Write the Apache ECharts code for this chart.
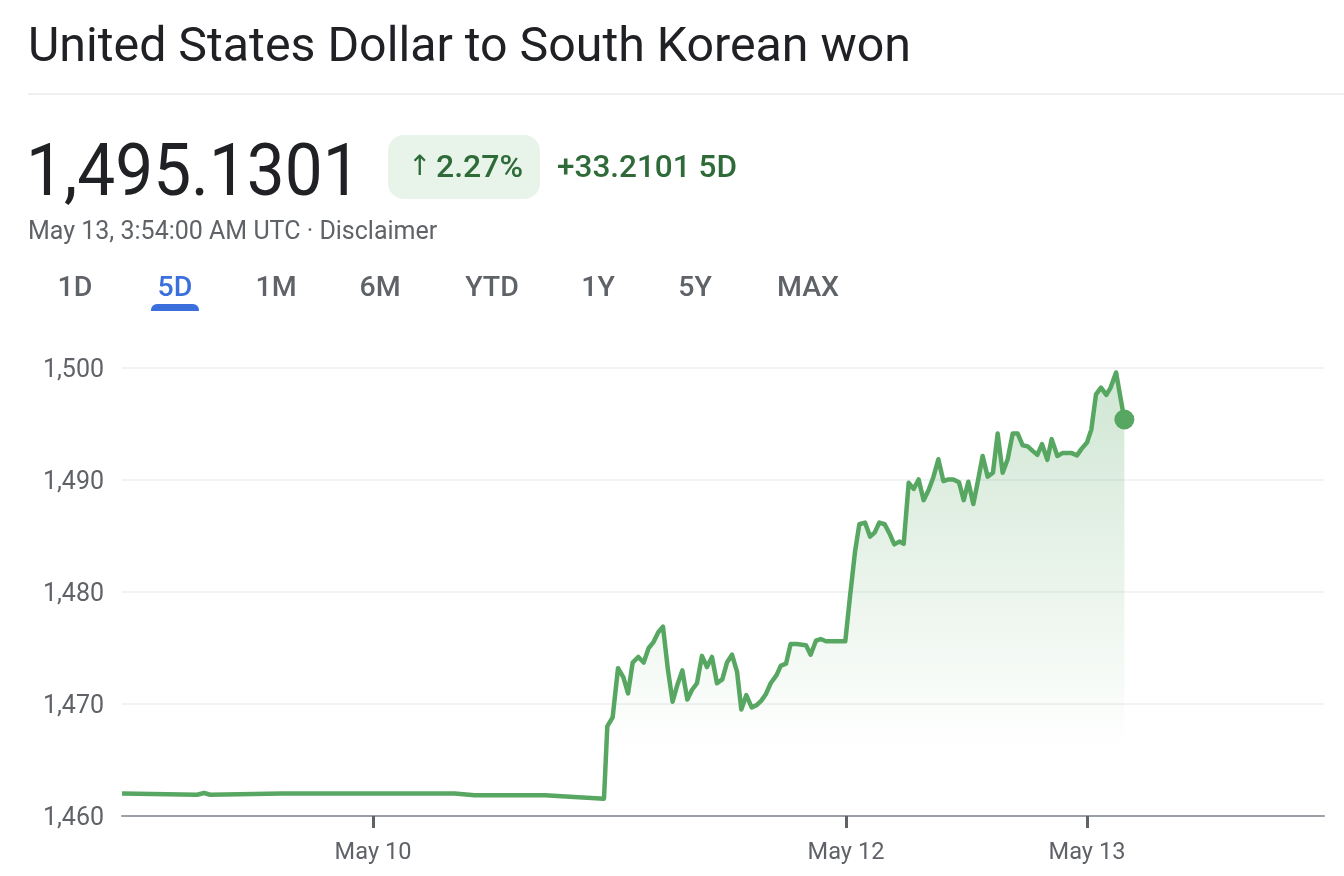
<!DOCTYPE html>
<html>
<head>
<meta charset="utf-8">
<style>
html, body { margin: 0; padding: 0; background: #fff; }
#chart { width: 1344px; height: 876px; }
</style>
<script src="https://cdn.jsdelivr.net/npm/echarts@6/dist/echarts.min.js"></script>
</head>
<body>
<div id="chart"></div>
<script>
// hours since the start of the 5 day window
var hours = [0, 7.5, 8.2, 8.8, 16, 33.2, 35.2, 42.2, 48.12,
    48.45, 48.98, 49.52, 50.05, 50.52, 50.98, 51.55, 52.08, 52.58, 53.04,
    53.54, 54.01, 54.51, 54.97, 55.44, 55.94, 56.44, 56.9, 57.4, 57.9,
    58.4, 58.9, 59.4, 59.93, 60.4, 60.9, 61.4, 61.83, 62.33, 62.86,
    63.36, 63.83, 64.29, 64.76, 65.36, 65.76, 66.29, 66.75, 67.35, 68.29,
    68.75, 69.28, 69.75, 70.28, 72.21, 72.68, 73.18, 73.61, 74.18, 74.68,
    75.14, 75.61, 76.14, 76.61, 77.1, 77.6, 78.04, 78.54, 79.03, 79.53,
    80.03, 80.53, 81, 81.5, 82, 82.5, 83, 83.56, 84.03, 84.49,
    84.99, 85.46, 85.92, 86.42, 86.95, 87.42, 87.92, 88.42, 88.92, 89.42,
    89.92, 90.42, 90.91, 91.38, 91.85, 92.38, 92.81, 93.38, 93.88, 94.81,
    95.34, 95.81, 96.34, 96.77, 97.24, 97.74, 98.27, 98.7, 99.24, 100.07];
var rates = [1462, 1461.9, 1462.05, 1461.9, 1462, 1462, 1461.85, 1461.85, 1461.55,
    1468, 1468.8, 1473.2, 1472.4, 1470.95, 1473.7, 1474.2, 1473.7, 1475, 1475.5,
    1476.4, 1476.9, 1473, 1470.2, 1471.7, 1473, 1470.4, 1471.25, 1471.85, 1474.3,
    1473.3, 1474.2, 1471.85, 1472.2, 1473.7, 1474.4, 1472.9, 1469.5, 1470.8, 1469.7,
    1469.9, 1470.3, 1470.9, 1471.85, 1472.6, 1473.4, 1473.6, 1475.35, 1475.35, 1475.25,
    1474.4, 1475.65, 1475.8, 1475.6, 1475.6, 1479.6, 1483.6, 1486.05, 1486.2, 1484.95,
    1485.3, 1486.2, 1486.05, 1485.25, 1484.25, 1484.5, 1484.3, 1489.75, 1489.2, 1490.05,
    1488.2, 1489.1, 1490.25, 1491.85, 1489.9, 1490.05, 1490.05, 1489.8, 1488.2, 1489.85,
    1487.85, 1489.95, 1492.15, 1490.3, 1490.65, 1494.15, 1490.65, 1491.85, 1494.15, 1494.15,
    1493.1, 1493, 1492.6, 1492.25, 1493.2, 1491.8, 1493.65, 1492.15, 1492.4, 1492.4,
    1492.2, 1492.8, 1493.35, 1494.5, 1497.65, 1498.25, 1497.6, 1498.25, 1499.6, 1495.4];
var tickHours = [25.06, 72.28, 96.34];
var tickNames = ['May 10', 'May 12', 'May 13'];
var rangeTabs = ['1D', '5D', '1M', '6M', 'YTD', '1Y', '5Y', 'MAX'];
var tabCenters = [75, 175, 276, 380, 492, 598, 695, 808];
var activeTab = '5D';

var FONT = 'Roboto, sans-serif';
var GREEN = '#57a762';
var GREY = '#5f6368';
var DARK_GREEN = '#2f6b38';

var points = hours.map(function (h, i) { return [h, rates[i]]; });

function label(x, y, text, size, color, align, weight, family) {
    return {
        type: 'text',
        x: x,
        y: y,
        style: {
            text: text,
            font: (weight || 400) + ' ' + size + 'px ' + (family || FONT),
            fill: color,
            align: align || 'left',
            verticalAlign: 'middle'
        }
    };
}

var price = label(26, 177, '1,495.1301', 73, '#202124');
price.scaleX = 0.925;

var header = [
    label(28, 49, 'United States Dollar to South Korean won', 48.3, '#202124'),
    { type: 'rect', shape: { x: 28, y: 93.5, width: 1316, height: 1 }, style: { fill: '#e0e0e0' } },
    price,
    { type: 'rect', shape: { x: 388, y: 135, width: 152, height: 64, r: 16 }, style: { fill: '#e8f3ea' } },
    label(408, 168, '↑', 28, DARK_GREEN, 'left', 400, '"DejaVu Sans"'),
    label(436, 169, '2.27%', 32, DARK_GREEN, 'left', 500),
    label(557, 169, '+33.2101 5D', 31.5, DARK_GREEN, 'left', 500),
    label(28, 233, 'May 13, 3:54:00 AM UTC · Disclaimer', 25, GREY)
];
rangeTabs.forEach(function (name, i) {
    header.push(label(tabCenters[i], 289, name, 28.5, name === activeTab ? '#3b6fdc' : GREY, 'center', 500));
});
header.push({
    type: 'rect',
    shape: { x: 151, y: 304, width: 48, height: 7, r: [6, 6, 0, 0] },
    style: { fill: '#3b6fdc' }
});

var chart = echarts.init(document.getElementById('chart'));
chart.setOption({
    animation: false,
    backgroundColor: '#fff',
    graphic: { elements: header },
    grid: { left: 122, right: 20, top: 368, bottom: 60 },
    xAxis: {
        type: 'value',
        min: 0,
        max: 120,
        splitLine: { show: false },
        axisLine: { lineStyle: { color: '#9aa0a6', width: 2 } },
        axisTick: {
            length: 12,
            lineStyle: { color: GREY, width: 3 },
            customValues: tickHours
        },
        axisLabel: {
            customValues: tickHours,
            margin: 25,
            fontFamily: FONT,
            fontSize: 23.6,
            color: GREY,
            formatter: function (v) {
                return tickNames[tickHours.indexOf(v)];
            }
        }
    },
    yAxis: {
        type: 'value',
        min: 1460,
        max: 1500,
        interval: 10,
        axisLine: { show: false },
        axisTick: { show: false },
        splitLine: { lineStyle: { color: '#f1f3f4', width: 2 } },
        axisLabel: {
            margin: 18,
            verticalAlign: 'top',
            lineHeight: 5,
            fontFamily: FONT,
            fontSize: 25,
            color: GREY,
            formatter: function (v) {
                return v.toLocaleString('en-US');
            }
        }
    },
    series: [{
        type: 'line',
        data: points,
        showSymbol: false,
        lineStyle: { color: GREEN, width: 4.5, join: 'round' },
        areaStyle: {
            origin: 'start',
            color: {
                type: 'linear',
                x: 0, y: 0, x2: 0, y2: 1,
                colorStops: [
                    { offset: 0, color: 'rgba(87,167,98,0.4)' },
                    { offset: 0.85, color: 'rgba(87,167,98,0)' },
                    { offset: 1, color: 'rgba(87,167,98,0)' }
                ]
            }
        }
    }, {
        type: 'scatter',
        data: [points[points.length - 1]],
        symbolSize: 20,
        itemStyle: { color: GREEN, opacity: 1 }
    }]
});
</script>
</body>
</html>
